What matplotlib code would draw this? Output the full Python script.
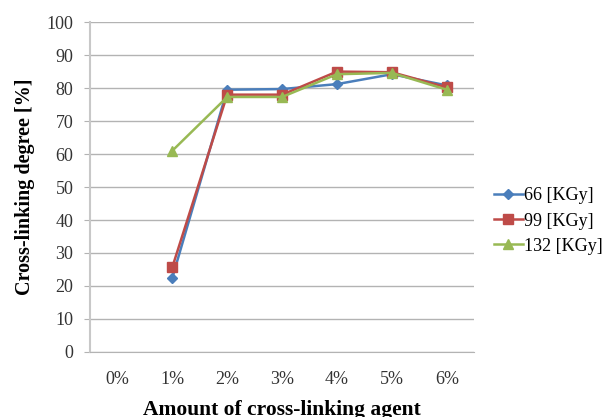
import numpy as np
import matplotlib.pyplot as plt

plt.rcParams['font.family'] = ['Liberation Serif', 'DejaVu Serif']

categories = ['0%', '1%', '2%', '3%', '4%', '5%', '6%']
dose_66 = [np.nan, 22.5, 79.5, 79.7, 81.2, 84.2, 80.8]
dose_99 = [np.nan, 25.7, 78.0, 78.0, 85.0, 84.8, 80.2]
dose_132 = [np.nan, 61.0, 77.3, 77.3, 84.2, 84.6, 79.5]
labels = ['66 [KGy]', '99 [KGy]', '132 [KGy]']

fig = plt.figure(figsize=(6.08, 4.17), dpi=100)
ax = fig.add_axes([0.148, 0.156, 0.632, 0.791])

x = np.arange(len(categories))
ax.plot(x, dose_66, color='#4A7EBB', marker='D', markersize=5, linewidth=1.8, label=labels[0])
ax.plot(x, dose_99, color='#BE4B48', marker='s', markersize=7, linewidth=1.8, label=labels[1])
ax.plot(x, dose_132, color='#98B954', marker='^', markersize=7, linewidth=1.8, label=labels[2])

ax.set_xlim(-0.5, 6.5)
ax.set_ylim(0, 100)
ax.set_yticks(np.arange(0, 101, 10))
ax.set_xticks(x)
ax.set_xticklabels(categories)
ax.yaxis.grid(True, color='#b3b3b3', linewidth=1)
ax.set_axisbelow(True)

for s in ['top', 'right']:
    ax.spines[s].set_visible(False)
ax.spines['left'].set_color('#c8c8c8')
ax.spines['left'].set_linewidth(1.5)
ax.spines['bottom'].set_color('#b3b3b3')
ax.tick_params(axis='y', length=4, color='#b3b3b3', labelsize=13, labelcolor='#333333', pad=8)
ax.tick_params(axis='x', length=0, labelsize=13, labelcolor='#333333', pad=14)

ax.set_ylabel('Cross-linking degree [%]', fontsize=14.5, fontweight='bold', labelpad=8)
ax.set_xlabel('Amount of cross-linking agent', fontsize=15.5, fontweight='bold', labelpad=8)

ax.legend(loc='center left', bbox_to_anchor=(494 / 608, 0.47), bbox_transform=fig.transFigure,
          frameon=False, fontsize=13, borderpad=0, borderaxespad=0,
          handlelength=1.6, handletextpad=0.05, labelspacing=0.45)

fig.savefig('out.png', dpi=100)
